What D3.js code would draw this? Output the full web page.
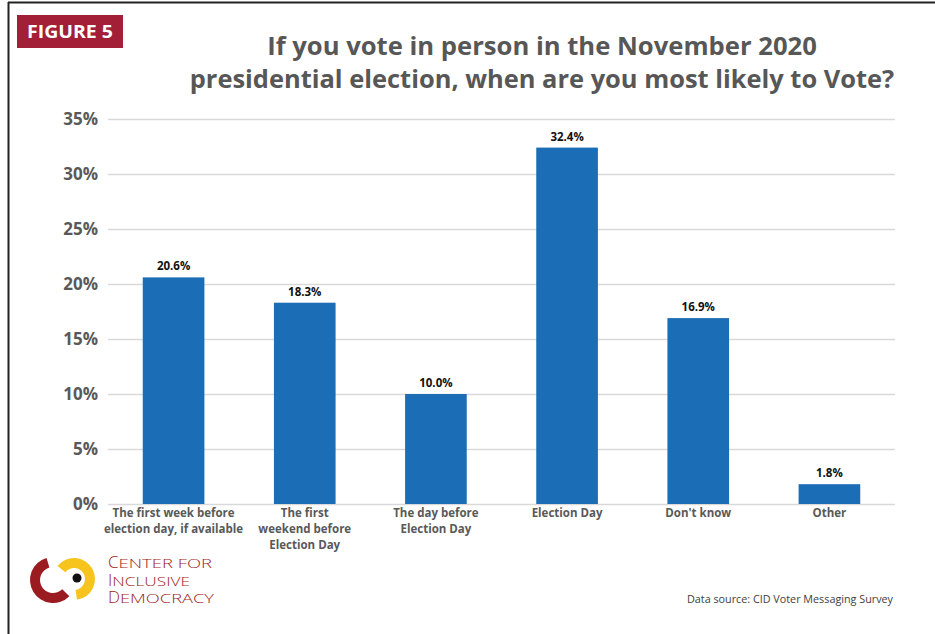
<!DOCTYPE html>
<html>
<head>
<meta charset="utf-8">
<script src="https://cdn.jsdelivr.net/npm/d3@7"></script>
<style>
  html, body { margin: 0; padding: 0; background: #fff; }
  svg { display: block; }
  text { font-family: "Open Sans", "Noto Sans", sans-serif; }
</style>
</head>
<body>
<svg id="chart" width="935" height="634"></svg>
<script>
const categories = [
  ["The first week before", "election day, if available"],
  ["The first", "weekend before", "Election Day"],
  ["The day before", "Election Day"],
  ["Election Day"],
  ["Don't know"],
  ["Other"]
];
const values = [20.6, 18.3, 10.0, 32.4, 16.9, 1.8];
const yTicks = [0, 5, 10, 15, 20, 25, 30, 35];
const titleLines = [
  "If you vote in person in the November 2020",
  "presidential election, when are you most likely to Vote?"
];

const svg = d3.select("#chart");

// frame
svg.append("line").attr("x1", 8).attr("x2", 935).attr("y1", 2.5).attr("y2", 2.5)
  .attr("stroke", "#222").attr("stroke-width", 2);
svg.append("line").attr("x1", 8.5).attr("x2", 8.5).attr("y1", 2).attr("y2", 634)
  .attr("stroke", "#222").attr("stroke-width", 2);

// figure tag
svg.append("rect").attr("x", 17).attr("y", 15).attr("width", 106).attr("height", 33)
  .attr("fill", "#a21f37");
svg.append("text").attr("x", 70).attr("y", 38).attr("text-anchor", "middle")
  .attr("fill", "#fff").attr("font-weight", 700).attr("font-size", 18)
  .attr("textLength", 86).attr("lengthAdjust", "spacingAndGlyphs")
  .text("FIGURE 5");

// title
const titleW = [550, 705];
const titleY = [55, 88];
titleLines.forEach((t, i) => {
  const el = svg.append("text").attr("x", 542).attr("y", titleY[i]).attr("text-anchor", "middle")
    .attr("fill", "#575757").attr("font-weight", 700).attr("font-size", 27)
    .text(t);
  const w = el.node().getComputedTextLength();
  if (w > titleW[i]) el.attr("font-size", 27 * titleW[i] / w);
});

// scales
const x = d3.scaleBand().domain(d3.range(values.length)).range([108, 895]).paddingInner(0.53).paddingOuter(0.265);
const y = d3.scaleLinear().domain([0, 35]).range([504, 119]);

// gridlines
const grid = svg.append("g");
grid.selectAll("line").data(yTicks).join("line")
  .attr("x1", 108).attr("x2", 895)
  .attr("y1", d => y(d) + 0.5).attr("y2", d => y(d) + 0.5)
  .attr("stroke", "#d9d9d9").attr("stroke-width", 1.5);

// y axis labels
const yAxis = d3.axisLeft(y).tickValues(yTicks).tickSize(0).tickPadding(0).tickFormat(d => d + "%");
const ya = svg.append("g").attr("transform", "translate(98,0)").call(yAxis);
ya.select(".domain").remove();
ya.selectAll("text").attr("font-family", "'Open Sans', sans-serif")
  .attr("font-size", 17).attr("font-weight", 700).attr("fill", "#595959")
  .attr("dy", "0.35em");

// bars
svg.append("g").selectAll("rect").data(values).join("rect")
  .attr("x", (d, i) => x(i)).attr("width", x.bandwidth())
  .attr("y", d => y(d)).attr("height", d => y(0) - y(d))
  .attr("fill", "#1b6db5");

// value labels
svg.append("g").selectAll("text").data(values).join("text")
  .attr("x", (d, i) => x(i) + x.bandwidth() / 2)
  .attr("y", d => y(d) - 7)
  .attr("text-anchor", "middle").attr("font-size", 11.5).attr("font-weight", 700)
  .attr("fill", "#111")
  .text(d => d.toFixed(1) + "%");

// category labels
const cl = svg.append("g");
categories.forEach((lines, i) => {
  lines.forEach((ln, j) => {
    const t = cl.append("text").attr("text-anchor", "middle")
      .attr("x", x(i) + x.bandwidth() / 2).attr("y", 517 + j * 16)
      .attr("font-size", 12.5).attr("font-weight", 700).attr("fill", "#595959")
      .text(ln);
    const w = t.node().getComputedTextLength();
    t.attr("textLength", w * 0.92).attr("lengthAdjust", "spacingAndGlyphs");
  });
});

// logo
const logo = svg.append("g");
const arc = d3.arc();
logo.append("path")
  .attr("transform", "translate(53,580)")
  .attr("d", arc({innerRadius: 13, outerRadius: 23, startAngle: 2.35, endAngle: 6.0}))
  .attr("fill", "#9b1c20");
logo.append("path")
  .attr("transform", "translate(74,579)")
  .attr("d", arc({innerRadius: 11, outerRadius: 21, startAngle: -0.9, endAngle: 3.0}))
  .attr("fill", "#f7c41d");
logo.append("circle").attr("cx", 77).attr("cy", 578).attr("r", 4.5).attr("fill", "#111");

const logoLines = [["C", "ENTER FOR"], ["I", "NCLUSIVE"], ["D", "EMOCRACY"]];
const logoY = [568, 586, 603];
const logoW = [104, 82, 106];
const word = logo.append("text").attr("fill", "#9b1c20").attr("font-weight", 300);
logoLines.forEach((l, i) => {
  const big = word.append("tspan").attr("x", 108).attr("y", logoY[i])
    .attr("font-size", 17).text(l[0]);
  const bw = big.node().getComputedTextLength();
  word.append("tspan").attr("font-size", 13.5)
    .attr("textLength", logoW[i] - bw).attr("lengthAdjust", "spacingAndGlyphs")
    .text(l[1]);
});

// source
svg.append("text").attr("x", 893).attr("y", 603).attr("text-anchor", "end")
  .attr("font-size", 10.5).attr("fill", "#404040")
  .attr("textLength", 206).attr("lengthAdjust", "spacingAndGlyphs")
  .text("Data source: CID Voter Messaging Survey");
</script>
</body>
</html>
